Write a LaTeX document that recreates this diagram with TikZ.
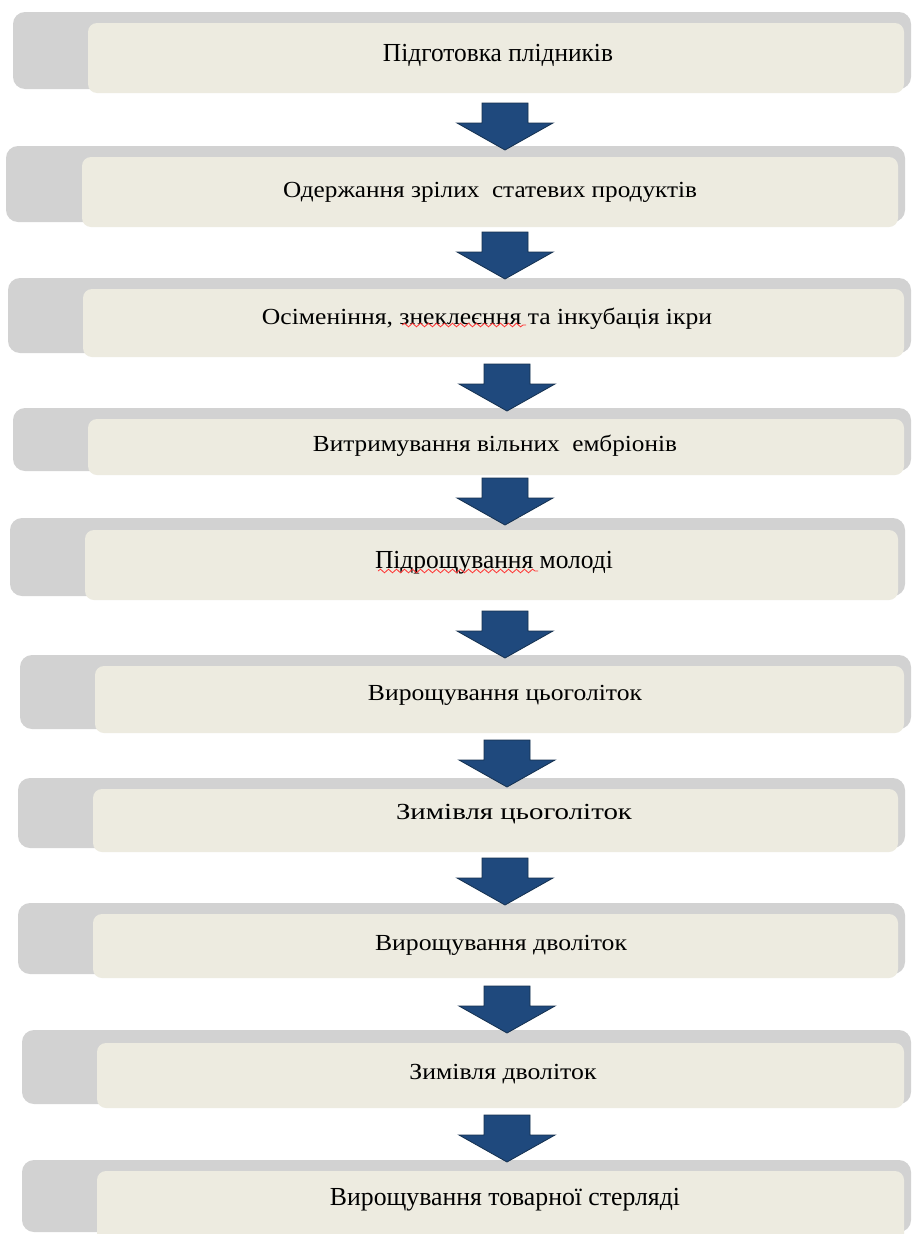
\documentclass[tikz,border=0pt]{standalone}
\usepackage{graphicx}
\usepackage{fontspec}
\setmainfont{Liberation Serif}
\usetikzlibrary{decorations.pathmorphing}
\definecolor{backgray}{HTML}{D2D2D2}
\definecolor{stagefill}{HTML}{EDEBE0}
\definecolor{arrowblue}{HTML}{1F497D}
\definecolor{arrowedge}{HTML}{14304F}
\tikzset{
  backbox/.style={fill=backgray, draw=none, rounded corners=12pt},
  stagebox/.style={fill=stagefill, draw=none, rounded corners=9pt},
  stagetext/.style={anchor=base, inner sep=0pt, text=black},
  blockarrow/.style={fill=arrowblue, draw=arrowedge, line width=0.8pt, line join=miter},
  squiggle/.style={draw=red!80, line width=0.8pt, decorate, decoration={snake, segment length=8pt, amplitude=1.8pt}}
}
\newcommand{\stagefont}[1]{\fontsize{#1}{#1}\selectfont}
% block arrow: top-centre coordinate name
\newcommand{\blockarr}[1]{%
  \draw[blockarrow] ([xshift=-23pt]#1) -- ([xshift=23pt]#1) -- ([xshift=23pt,yshift=-20pt]#1)
    -- ([xshift=48pt,yshift=-20pt]#1) -- ([yshift=-47pt]#1) -- ([xshift=-48pt,yshift=-20pt]#1)
    -- ([xshift=-23pt,yshift=-20pt]#1) -- cycle;}
\begin{document}
\begin{tikzpicture}[x=1pt,y=-1pt]
\useasboundingbox (0,0) rectangle (911,1234);
\fill[white] (0,0) rectangle (911,1234);

% stage 1
\fill[backbox] (13,12) rectangle (911,89);
\fill[stagebox] (88,23) rectangle (904,93);
\node[stagetext] (s1) at (498,61) {\stagefont{26}\resizebox{230pt}{\height}{Підготовка плідників}};

% stage 2
\fill[backbox] (6,146) rectangle (905,222);
\fill[stagebox] (82,157) rectangle (898,227);
\node[stagetext] (s2) at (490,197) {\stagefont{23}\resizebox{414pt}{\height}{Одержання зрілих\ \ статевих продуктів}};

% stage 3
\fill[backbox] (8,278) rectangle (911,353);
\fill[stagebox] (83,289) rectangle (904,357);
\node[stagetext] (s3) at (487,324) {\stagefont{23}\resizebox{450pt}{\height}{Осіменіння, знеклеєння та інкубація ікри}};

% stage 4
\fill[backbox] (13,408) rectangle (911,471);
\fill[stagebox] (88,419) rectangle (904,475);
\node[stagetext] (s4) at (495,451) {\stagefont{23}\resizebox{364pt}{\height}{Витримування вільних\ \ ембріонів}};

% stage 5
\fill[backbox] (10,518) rectangle (905,596);
\fill[stagebox] (85,530) rectangle (898,600);
\node[stagetext] (s5) at (494,568) {\stagefont{26}\resizebox{238pt}{\height}{Підрощування молоді}};

% stage 6
\fill[backbox] (20,655) rectangle (911,729);
\fill[stagebox] (95,666) rectangle (904,733);
\node[stagetext] (s6) at (505,700) {\stagefont{23}\resizebox{274pt}{\height}{Вирощування цьоголіток}};

% stage 7
\fill[backbox] (18,778) rectangle (905,848);
\fill[stagebox] (93,789) rectangle (898,852);
\node[stagetext] (s7) at (514,819) {\stagefont{23}\resizebox{236pt}{\height}{Зимівля цьоголіток}};

% stage 8
\fill[backbox] (18,903) rectangle (905,974);
\fill[stagebox] (93,914) rectangle (898,978);
\node[stagetext] (s8) at (501,950) {\stagefont{23}\resizebox{252pt}{\height}{Вирощування дволіток}};

% stage 9
\fill[backbox] (22,1030) rectangle (911,1104);
\fill[stagebox] (97,1043) rectangle (904,1108);
\node[stagetext] (s9) at (503,1079) {\stagefont{23}\resizebox{187pt}{\height}{Зимівля дволіток}};

% stage 10
\fill[backbox] (22,1160) rectangle (911,1232);
\fill[stagebox] (97,1171) rectangle (904,1250);
\node[stagetext] (s10) at (505,1205) {\stagefont{26}\resizebox{350pt}{\height}{Вирощування товарної стерляді}};

% spell-check underlines
\coordinate (u3a) at (402,325); \coordinate (u3b) at (526,325);
\draw[squiggle] (u3a) -- (u3b);
\coordinate (u5a) at (378,571); \coordinate (u5b) at (538,571);
\draw[squiggle] (u5a) -- (u5b);

% block arrows (top-centre points)
\coordinate (a1) at (505,103);
\coordinate (a2) at (505,232);
\coordinate (a3) at (507,364);
\coordinate (a4) at (505,478);
\coordinate (a5) at (505,611);
\coordinate (a6) at (507,740);
\coordinate (a7) at (505,858);
\coordinate (a8) at (507,986);
\coordinate (a9) at (507,1115);
\foreach \a in {a1,a2,a3,a4,a5,a6,a7,a8,a9} {\blockarr{\a}}
\end{tikzpicture}
\end{document}
